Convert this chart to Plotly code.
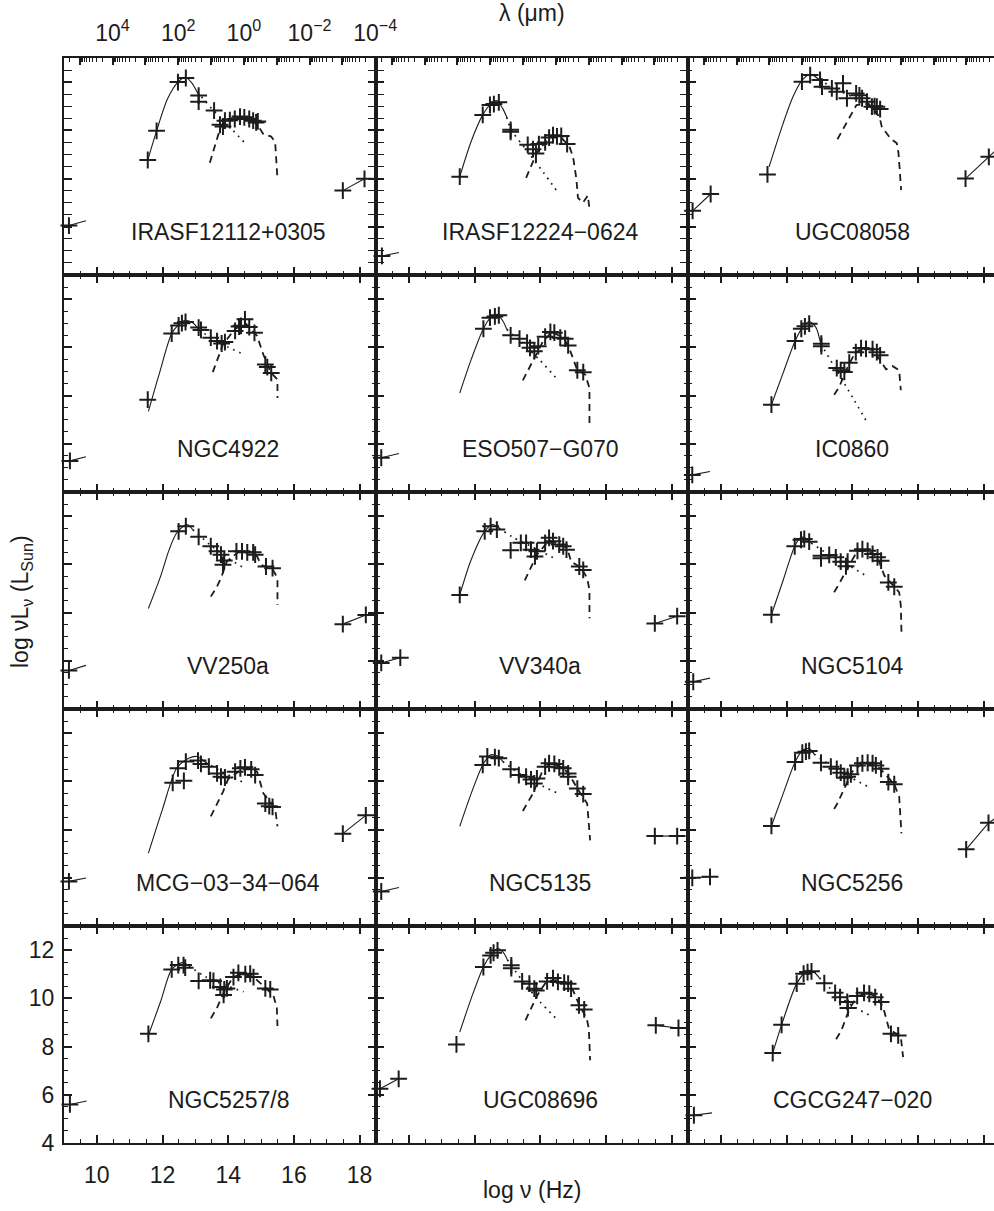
import math
import plotly.graph_objects as go

# ---------------- data ----------------
NAMES = ["IRASF12112+0305", "IRASF12224−0624", "UGC08058",
         "NGC4922", "ESO507−G070", "IC0860",
         "VV250a", "VV340a", "NGC5104",
         "MCG−03−34−064", "NGC5135", "NGC5256",
         "NGC5257/8", "UGC08696", "CGCG247−020"]

# photometric points (log nu, log nuLnu)
PTS_X = [
    [11.55, 11.82, 12.47, 12.71, 13.10, 13.10, 13.57, 13.75, 13.84, 13.90, 14.05, 14.20, 14.36, 14.49, 14.64, 14.76, 14.85, 14.90],
    [11.55, 12.25, 12.47, 12.59, 12.74, 13.10, 13.10, 13.62, 13.78, 13.87, 13.96, 14.15, 14.27, 14.39, 14.51, 14.64, 14.82],
    [11.42, 12.47, 12.72, 13.02, 13.08, 13.38, 13.53, 13.72, 13.84, 14.12, 14.22, 14.30, 14.45, 14.60, 14.68, 14.75, 14.85],
    [11.55, 12.28, 12.49, 12.59, 12.70, 13.10, 13.17, 13.47, 13.66, 13.80, 13.90, 14.21, 14.33, 14.39, 14.51, 14.64, 14.80, 15.13, 15.19, 15.31],
    [12.27, 12.47, 12.62, 12.74, 13.10, 13.37, 13.60, 13.69, 13.82, 13.94, 14.15, 14.31, 14.43, 14.61, 14.76, 14.85, 15.13, 15.31],
    [11.54, 12.26, 12.45, 12.56, 12.69, 13.06, 13.06, 13.53, 13.65, 13.76, 13.91, 14.11, 14.27, 14.42, 14.62, 14.75, 14.85],
    [12.49, 12.71, 13.10, 13.47, 13.66, 13.78, 13.88, 13.84, 14.25, 14.42, 14.58, 14.76, 14.82, 15.15, 15.35],
    [11.55, 12.31, 12.49, 12.68, 13.10, 13.41, 13.57, 13.72, 13.84, 13.90, 14.15, 14.27, 14.39, 14.58, 14.70, 14.80, 15.19, 15.31],
    [11.54, 12.25, 12.44, 12.54, 12.69, 13.05, 13.05, 13.30, 13.50, 13.65, 13.81, 13.86, 14.16, 14.31, 14.47, 14.62, 14.77, 14.88, 15.10, 15.28],
    [12.31, 12.65, 12.47, 12.71, 13.08, 13.17, 13.41, 13.66, 13.78, 13.90, 14.21, 14.37, 14.51, 14.70, 14.82, 15.13, 15.25, 15.35],
    [12.25, 12.39, 12.62, 12.74, 13.10, 13.35, 13.57, 13.72, 13.82, 13.90, 14.15, 14.27, 14.43, 14.58, 14.70, 14.85, 14.85, 15.13, 15.31],
    [11.54, 12.26, 12.48, 12.59, 12.69, 13.05, 13.35, 13.53, 13.65, 13.76, 13.86, 13.96, 14.16, 14.31, 14.47, 14.62, 14.72, 14.88, 15.10, 15.28],
    [11.57, 12.28, 12.48, 12.64, 12.69, 13.10, 13.45, 13.55, 13.76, 13.88, 13.86, 13.96, 14.16, 14.31, 14.52, 14.67, 14.77, 15.13, 15.28],
    [11.45, 12.27, 12.49, 12.58, 12.70, 13.12, 13.12, 13.45, 13.67, 13.82, 13.88, 14.21, 14.39, 14.54, 14.73, 14.85, 14.94, 15.18, 15.34],
    [11.58, 11.85, 12.31, 12.52, 12.64, 12.76, 13.15, 13.48, 13.63, 13.85, 13.87, 14.15, 14.36, 14.52, 14.70, 14.88, 15.18, 15.40],
]
PTS_Y = [
    [8.77, 9.98, 12.00, 12.17, 11.44, 11.19, 10.82, 10.23, 10.16, 10.40, 10.42, 10.47, 10.57, 10.54, 10.47, 10.40, 10.33, 10.37],
    [8.08, 10.64, 11.05, 11.09, 11.16, 10.02, 9.94, 9.40, 9.22, 9.04, 9.43, 9.50, 9.70, 9.80, 9.75, 9.77, 9.43],
    [8.17, 12.02, 12.29, 12.09, 11.81, 11.74, 11.60, 11.95, 11.33, 11.53, 11.45, 11.33, 11.19, 10.98, 11.00, 10.98, 10.88],
    [7.83, 10.57, 10.91, 11.00, 11.05, 10.82, 10.72, 10.40, 10.26, 10.16, 10.22, 10.68, 10.86, 10.89, 11.16, 10.84, 10.60, 9.29, 9.18, 8.94],
    [10.77, 11.23, 11.28, 11.33, 10.50, 10.36, 10.19, 9.98, 9.84, 10.05, 10.44, 10.64, 10.61, 10.40, 10.36, 10.08, 9.05, 8.97],
    [7.62, 10.26, 10.77, 10.87, 10.98, 10.15, 10.05, 9.14, 9.05, 8.98, 9.36, 9.80, 9.97, 9.94, 9.92, 9.80, 9.67],
    [11.37, 11.58, 11.14, 10.75, 10.54, 10.40, 10.16, 9.98, 10.54, 10.54, 10.50, 10.50, 10.40, 9.91, 9.84],
    [8.73, 11.37, 11.58, 11.44, 10.58, 10.89, 10.89, 10.61, 10.33, 10.54, 10.89, 11.10, 10.96, 10.82, 10.75, 10.61, 9.91, 9.77],
    [7.91, 10.75, 11.02, 11.05, 10.94, 10.36, 10.25, 10.39, 10.29, 10.11, 9.92, 10.11, 10.56, 10.63, 10.56, 10.43, 10.29, 10.15, 9.25, 9.07],
    [9.94, 10.02, 10.54, 10.82, 10.86, 10.72, 10.61, 10.33, 10.19, 10.16, 10.40, 10.54, 10.58, 10.50, 10.26, 9.08, 8.97, 8.94],
    [10.68, 11.03, 11.00, 10.96, 10.50, 10.26, 10.19, 10.08, 9.91, 10.12, 10.61, 10.75, 10.72, 10.58, 10.54, 10.33, 10.19, 9.70, 9.47],
    [8.15, 10.80, 11.19, 11.23, 11.26, 10.77, 10.61, 10.52, 10.36, 10.15, 10.19, 10.29, 10.66, 10.75, 10.77, 10.75, 10.66, 10.52, 9.97, 9.88],
    [8.53, 11.20, 11.38, 11.38, 11.27, 10.72, 10.75, 10.72, 10.47, 10.37, 10.14, 10.41, 10.88, 11.06, 11.00, 11.02, 10.88, 10.41, 10.37],
    [8.09, 11.30, 11.78, 11.89, 11.99, 11.37, 11.25, 10.70, 10.61, 10.40, 10.33, 10.70, 10.84, 10.68, 10.65, 10.61, 10.40, 9.71, 9.54],
    [7.73, 8.90, 10.61, 11.02, 11.09, 11.12, 10.63, 10.23, 10.05, 9.85, 9.60, 10.10, 10.23, 10.19, 10.05, 9.85, 8.53, 8.46],
]

# cold-dust model, solid part
SOLID_X = [
    [11.55, 11.82, 12.15, 12.47, 12.70, 12.90, 13.05],
    [11.55, 11.90, 12.25, 12.50, 12.68, 12.86, 12.98],
    [11.47, 11.90, 12.20, 12.47, 12.72, 13.00],
    [11.57, 11.90, 12.28, 12.50, 12.68, 12.92, 13.10],
    [11.55, 11.90, 12.27, 12.50, 12.68, 12.86, 12.98],
    [11.54, 11.90, 12.26, 12.50, 12.69, 12.89, 13.04],
    [11.57, 11.94, 12.20, 12.43, 12.74, 12.92],
    [11.55, 11.90, 12.31, 12.55, 12.74],
    [11.54, 11.90, 12.25, 12.44, 12.60, 12.75],
    [11.57, 12.00, 12.43, 12.80, 13.05, 13.30],
    [11.55, 11.90, 12.25, 12.49, 12.70, 12.86],
    [11.54, 11.90, 12.26, 12.48, 12.69, 12.84],
    [11.55, 11.95, 12.28, 12.59, 12.80],
    [11.55, 11.90, 12.27, 12.50, 12.70, 12.88, 13.00],
    [11.58, 11.85, 12.31, 12.64, 12.82, 13.00],
]
SOLID_Y = [
    [8.77, 9.98, 11.30, 12.00, 12.20, 11.95, 11.60],
    [8.08, 9.55, 10.64, 11.10, 11.23, 10.90, 10.55],
    [8.49, 10.30, 11.40, 12.07, 12.32, 12.10],
    [7.34, 8.90, 10.57, 10.95, 11.12, 11.02, 10.75],
    [8.10, 9.50, 10.77, 11.25, 11.37, 11.10, 10.75],
    [7.62, 8.95, 10.26, 10.85, 11.07, 10.84, 10.15],
    [8.17, 9.50, 10.60, 11.30, 11.65, 11.44],
    [8.73, 10.20, 11.37, 11.65, 11.51],
    [7.91, 9.35, 10.75, 11.12, 11.07, 10.88],
    [7.02, 8.85, 10.54, 10.96, 11.03, 10.80],
    [8.13, 9.50, 10.68, 11.10, 11.05, 10.82],
    [8.15, 9.50, 10.80, 11.28, 11.36, 11.13],
    [8.39, 9.90, 11.20, 11.48, 11.35],
    [8.60, 10.00, 11.30, 11.80, 12.06, 11.90, 11.60],
    [7.73, 8.90, 10.61, 11.16, 11.10, 10.85],
]

# dust model continuation, dotted part
DOT_X = [
    [13.05, 13.50, 14.00, 14.49],
    [12.98, 13.10, 13.60, 14.10, 14.51],
    [13.00, 13.50, 14.00, 14.50, 14.85],
    [13.10, 13.50, 14.00, 14.49],
    [12.98, 13.40, 14.00, 14.51],
    [13.04, 13.50, 14.00, 14.45],
    [12.92, 13.50, 14.00, 14.49],
    [12.74, 13.20, 13.80, 14.51],
    [12.75, 13.30, 13.90, 14.45],
    [13.30, 13.80, 14.49],
    [12.86, 13.40, 14.00, 14.51],
    [12.84, 13.40, 13.90, 14.45],
    [12.80, 13.30, 13.90, 14.47],
    [13.00, 13.50, 14.00, 14.49],
    [13.00, 13.50, 14.00, 14.52],
]
DOT_Y = [
    [11.60, 10.90, 10.20, 9.50],
    [10.55, 10.05, 9.15, 8.25, 7.48],
    [12.10, 11.70, 11.40, 11.10, 10.88],
    [10.75, 10.35, 10.00, 9.70],
    [10.75, 10.25, 9.45, 8.69],
    [10.15, 9.10, 7.95, 6.90],
    [11.44, 10.75, 10.25, 9.84],
    [11.51, 11.10, 10.70, 10.19],
    [10.88, 10.40, 9.95, 9.50],
    [10.80, 10.40, 9.94],
    [10.82, 10.30, 9.85, 9.52],
    [11.13, 10.60, 10.20, 9.80],
    [11.35, 10.90, 10.55, 10.27],
    [11.60, 10.65, 9.85, 9.15],
    [10.85, 10.20, 9.70, 9.30],
]

# stellar model, dashed
DASH_X = [
    [13.44, 13.78, 14.10, 14.50, 14.88, 15.07, 15.31, 15.43, 15.50],
    [13.57, 13.90, 14.27, 14.60, 14.88, 15.00, 15.10, 15.15, 15.30, 15.45, 15.50],
    [13.55, 13.73, 14.13, 14.50, 14.83, 14.90, 15.16, 15.36, 15.41, 15.49],
    [13.53, 13.84, 14.20, 14.51, 14.88, 15.07, 15.31, 15.50, 15.50],
    [13.47, 13.78, 14.09, 14.35, 14.70, 14.88, 15.13, 15.37, 15.50, 15.50],
    [13.45, 13.60, 13.86, 14.10, 14.40, 14.62, 14.82, 15.03, 15.23, 15.43, 15.48],
    [13.47, 13.66, 13.78, 13.96, 14.30, 14.76, 14.88, 15.00, 15.35, 15.50, 15.50],
    [13.53, 13.66, 13.90, 14.27, 14.60, 14.82, 14.94, 15.25, 15.43, 15.50, 15.50],
    [13.45, 13.60, 13.81, 14.16, 14.50, 14.77, 14.98, 15.28, 15.43, 15.48, 15.50],
    [13.47, 13.84, 14.00, 14.51, 14.88, 15.07, 15.43, 15.50],
    [13.47, 13.78, 14.09, 14.35, 14.70, 14.88, 15.13, 15.43, 15.52],
    [13.45, 13.55, 13.76, 14.00, 14.30, 14.70, 14.90, 15.28, 15.43, 15.50],
    [13.47, 13.66, 13.86, 14.15, 14.50, 14.77, 15.13, 15.38, 15.48, 15.50],
    [13.55, 13.91, 14.20, 14.50, 14.85, 15.00, 15.18, 15.42, 15.48, 15.52],
    [13.51, 13.67, 13.91, 14.15, 14.50, 14.75, 14.94, 15.12, 15.48, 15.55],
]
DASH_Y = [
    [8.66, 10.19, 10.50, 10.55, 10.26, 9.84, 9.74, 9.50, 7.97],
    [8.03, 9.08, 9.70, 9.75, 9.36, 8.90, 8.00, 7.20, 7.00, 7.30, 6.75],
    [9.63, 10.08, 11.05, 11.10, 10.56, 10.15, 9.67, 9.46, 9.05, 7.52],
    [8.97, 10.12, 10.75, 11.02, 10.47, 9.70, 8.94, 8.66, 7.90],
    [8.63, 9.43, 10.26, 10.62, 10.42, 9.98, 9.05, 8.87, 8.31, 6.85],
    [8.03, 8.35, 9.18, 9.80, 9.95, 9.90, 9.53, 9.09, 9.22, 9.05, 8.22],
    [8.66, 9.08, 9.43, 10.12, 10.50, 10.50, 10.33, 9.98, 9.80, 9.43, 8.31],
    [9.33, 9.70, 10.40, 11.00, 10.80, 10.68, 10.12, 9.85, 9.43, 8.94, 7.76],
    [8.84, 9.18, 9.73, 10.56, 10.55, 10.30, 9.53, 9.07, 8.84, 8.28, 7.18],
    [8.55, 9.56, 10.10, 10.58, 10.40, 9.50, 8.87, 8.13],
    [8.77, 9.50, 10.50, 10.75, 10.55, 10.30, 9.70, 9.08, 7.55],
    [8.85, 9.09, 9.70, 10.40, 10.75, 10.70, 10.45, 9.88, 9.36, 7.84],
    [9.17, 9.61, 10.23, 10.90, 11.00, 10.88, 10.45, 10.10, 9.61, 8.85],
    [9.09, 10.12, 10.72, 10.75, 10.60, 10.33, 9.75, 9.15, 8.74, 7.43],
    [8.30, 8.67, 9.54, 10.10, 10.20, 10.05, 9.64, 8.74, 8.39, 7.56],
]

# radio points (line segment, 1 = measured point drawn with a cross)
RADIO_X = [[9.15, 9.67], [9.18, 9.70], [9.14, 9.69], [9.18, 9.67], [9.16, 9.70],
           [9.13, 9.67], [9.15, 9.67], [9.16, 9.74], [9.16, 9.67], [9.15, 9.67],
           [9.16, 9.70], [9.13, 9.67], [9.18, 9.69], [9.12, 9.69], [9.18, 9.73]]
RADIO_Y = [[6.05, 6.25], [4.79, 4.93], [6.66, 7.36], [5.29, 5.46], [5.42, 5.60],
           [4.71, 4.85], [5.60, 5.81], [5.91, 6.13], [5.13, 5.28], [5.85, 5.99],
           [5.43, 5.60], [6.00, 6.04], [5.60, 5.74], [6.25, 6.66], [5.15, 5.25]]
RADIO_MARK = [[1, 0], [1, 0], [1, 1], [1, 0], [1, 0],
              [1, 0], [1, 0], [1, 1], [1, 0], [1, 0],
              [1, 0], [1, 1], [1, 0], [1, 1], [1, 0]]

# X-ray points
XRAY_X = [[17.49, 18.15], [], [17.45, 18.16, 18.45], [], [],
          [], [17.49, 18.19], [17.49, 18.17], [], [17.49, 18.19],
          [17.49, 18.17], [17.47, 18.15, 18.40], [], [17.52, 18.21], []]
XRAY_Y = [[7.50, 7.99], [], [8.00, 8.90, 9.27], [], [],
          [], [7.52, 7.90], [7.55, 7.85], [], [7.83, 8.59],
          [7.73, 7.73], [7.18, 8.28, 8.50], [], [8.88, 8.77], []]
XRAY_MARK = [[1, 1], [], [1, 1, 0], [], [],
             [], [1, 1], [1, 1], [], [1, 1],
             [1, 1], [1, 1, 0], [], [1, 1], []]

X_RANGE = [9.0, 18.5]
Y_RANGE = [4.0, 13.0]
LAMBDA_EXP = [5, 4, 3, 2, 1, 0, -1, -2, -3, -4]          # top axis decades (micron)
LAMBDA_LABELS = {4: "10<sup>4</sup>", 2: "10<sup>2</sup>", 0: "10<sup>0</sup>",
                 -2: "10<sup>−2</sup>", -4: "10<sup>−4</sup>"}
C_MICRON = 2.998e14

# ---------------- layout geometry ----------------
W, H = 994, 1211
L0, PW, T0, PH = 64, 312, 58, 217
INK = "#1c1c1c"
FONT = "Liberation Sans, Arial, Helvetica, sans-serif"
FS = 23

fig = go.Figure()
layout = dict(width=W, height=H, margin=dict(l=0, r=0, t=0, b=0, autoexpand=False),
              paper_bgcolor="white", plot_bgcolor="white",
              showlegend=False, font=dict(family=FONT, size=FS, color=INK))
annotations = []

def lognu(lam):
    return math.log10(C_MICRON / lam)

def top_axis(base_x, base_y, xmax, vals, texts, minor_vals, show_line, show_labels):
    ax = dict(overlaying=base_x, anchor=base_y, side="top", range=[X_RANGE[0], xmax],
              automargin=False, showline=show_line, linewidth=2, linecolor=INK,
              tickmode="array", tickvals=vals,
              ticks="inside", ticklen=7, tickwidth=1.5, tickcolor=INK,
              showticklabels=show_labels, ticklabelstandoff=6,
              tickfont=dict(size=FS, family=FONT, color=INK),
              showgrid=False, zeroline=False, fixedrange=True)
    if texts is not None:
        ax["ticktext"] = texts
    if minor_vals:
        ax["minor"] = dict(tickmode="array", tickvals=minor_vals, ticks="inside", ticklen=3.5,
                           tickwidth=1.2, tickcolor=INK)
    return ax

extra_axis = 19
for i in range(15):
    r, c = divmod(i, 3)
    n = i + 1
    xs = "x" if n == 1 else f"x{n}"
    ys = "y" if n == 1 else f"y{n}"
    xl = (L0 + c * PW) / W
    xr_px = min(L0 + (c + 1) * PW, W)
    xr = xr_px / W
    xmax = X_RANGE[0] + (xr_px - (L0 + c * PW)) / PW * (X_RANGE[1] - X_RANGE[0])
    ytop = 1 - (T0 + r * PH) / H
    ybot = 1 - (T0 + (r + 1) * PH) / H

    xa = dict(domain=[xl, xr], anchor=ys, range=[X_RANGE[0], xmax], automargin=False,
              showline=True, linewidth=2, linecolor=INK,
              mirror=("allticks" if r > 0 else False),
              ticks="inside", ticklen=8, tickwidth=1.5, tickcolor=INK,
              tick0=0, dtick=2,
              minor=dict(ticks="inside", ticklen=4, tickwidth=1.2, tickcolor=INK, tick0=0, dtick=0.5),
              showticklabels=(r == 4 and c == 0), ticklabelstandoff=10,
              tickfont=dict(size=FS, family=FONT, color=INK),
              showgrid=False, zeroline=False, fixedrange=True)
    ya = dict(domain=[ybot, ytop], anchor=xs, range=Y_RANGE, automargin=False,
              showline=True, linewidth=2, linecolor=INK,
              mirror=("allticks" if c < 2 else False),
              ticks="inside", ticklen=8, tickwidth=1.5, tickcolor=INK,
              tick0=0, dtick=2,
              minor=dict(ticks="inside", ticklen=4, tickwidth=1.2, tickcolor=INK, tick0=0, dtick=0.5),
              showticklabels=(r == 4 and c == 0), ticklabelstandoff=3,
              tickfont=dict(size=FS, family=FONT, color=INK),
              showgrid=False, zeroline=False, fixedrange=True)
    layout["xaxis" if n == 1 else f"xaxis{n}"] = xa
    layout["yaxis" if n == 1 else f"yaxis{n}"] = ya

    if r == 0:
        tn = 16 + c
        minor = [lognu(k * 10.0 ** e) for e in LAMBDA_EXP for k in range(2, 10)]
        if c == 0:
            labelled = [e for e in LAMBDA_EXP if e in LAMBDA_LABELS]
            unlabelled = [e for e in LAMBDA_EXP if e not in LAMBDA_LABELS]
            layout[f"xaxis{tn}"] = top_axis(xs, ys, xmax,
                                            [lognu(10.0 ** e) for e in labelled],
                                            [LAMBDA_LABELS[e] for e in labelled],
                                            minor, True, True)
            # second overlay: the unlabelled decade ticks
            layout[f"xaxis{extra_axis}"] = top_axis(xs, ys, xmax,
                                                    [lognu(10.0 ** e) for e in unlabelled],
                                                    None, None, False, False)
            fig.add_trace(go.Scatter(x=[None], y=[None], mode="markers", xaxis=f"x{extra_axis}",
                                     yaxis=ys, hoverinfo="skip", showlegend=False))
        else:
            layout[f"xaxis{tn}"] = top_axis(xs, ys, xmax,
                                            [lognu(10.0 ** e) for e in LAMBDA_EXP],
                                            None, minor, True, False)
        # empty trace so that the wavelength (top) axis is created and drawn
        fig.add_trace(go.Scatter(x=[None], y=[None], mode="markers", xaxis=f"x{tn}", yaxis=ys,
                                 hoverinfo="skip", showlegend=False))

    # model curves
    fig.add_trace(go.Scatter(x=SOLID_X[i], y=SOLID_Y[i], mode="lines", xaxis=xs, yaxis=ys,
                             line=dict(color=INK, width=1.1, shape="spline", smoothing=0.8)))
    fig.add_trace(go.Scatter(x=DOT_X[i], y=DOT_Y[i], mode="lines", xaxis=xs, yaxis=ys,
                             line=dict(color=INK, width=1.7, dash="1.7px,5px", shape="spline", smoothing=0.6)))
    fig.add_trace(go.Scatter(x=DASH_X[i], y=DASH_Y[i], mode="lines", xaxis=xs, yaxis=ys,
                             line=dict(color=INK, width=1.8, dash="7px,5px")))
    # photometry
    fig.add_trace(go.Scatter(x=PTS_X[i], y=PTS_Y[i], mode="markers", xaxis=xs, yaxis=ys,
                             marker=dict(symbol="cross-thin", size=12, color=INK,
                                         line=dict(color=INK, width=2))))
    # radio and X-ray segments
    for gx, gy, gm in ((RADIO_X[i], RADIO_Y[i], RADIO_MARK[i]), (XRAY_X[i], XRAY_Y[i], XRAY_MARK[i])):
        if not gx:
            continue
        fig.add_trace(go.Scatter(x=gx, y=gy, mode="lines", xaxis=xs, yaxis=ys,
                                 line=dict(color=INK, width=1.1)))
        fig.add_trace(go.Scatter(x=[v for v, m in zip(gx, gm) if m],
                                 y=[v for v, m in zip(gy, gm) if m],
                                 mode="markers", xaxis=xs, yaxis=ys, cliponaxis=False,
                                 marker=dict(symbol="cross-thin", size=12, color=INK,
                                             line=dict(color=INK, width=2))))
    annotations.append(dict(text=NAMES[i], xref=xs, yref=ys, x=14.0, y=5.8,
                            showarrow=False, xanchor="center", yanchor="middle",
                            font=dict(size=FS, family=FONT, color=INK)))

# axis titles
annotations.append(dict(text="λ (μm)", xref="paper", yref="paper",
                        x=(L0 + 1.5 * PW) / W, y=1 - 13 / H, showarrow=False,
                        xanchor="center", yanchor="middle", font=dict(size=FS, family=FONT, color=INK)))
annotations.append(dict(text="log ν (Hz)", xref="paper", yref="paper",
                        x=(L0 + 1.5 * PW) / W, y=1 - 1190 / H, showarrow=False,
                        xanchor="center", yanchor="middle", font=dict(size=FS, family=FONT, color=INK)))
annotations.append(dict(text="log νL<sub>ν</sub> (L<sub>Sun</sub>)", xref="paper", yref="paper",
                        x=21 / W, y=1 - 602 / H, showarrow=False, textangle=-90,
                        xanchor="center", yanchor="middle", font=dict(size=FS, family=FONT, color=INK)))
layout["annotations"] = annotations
fig.update_layout(**layout)
fig.write_html("out.html")
